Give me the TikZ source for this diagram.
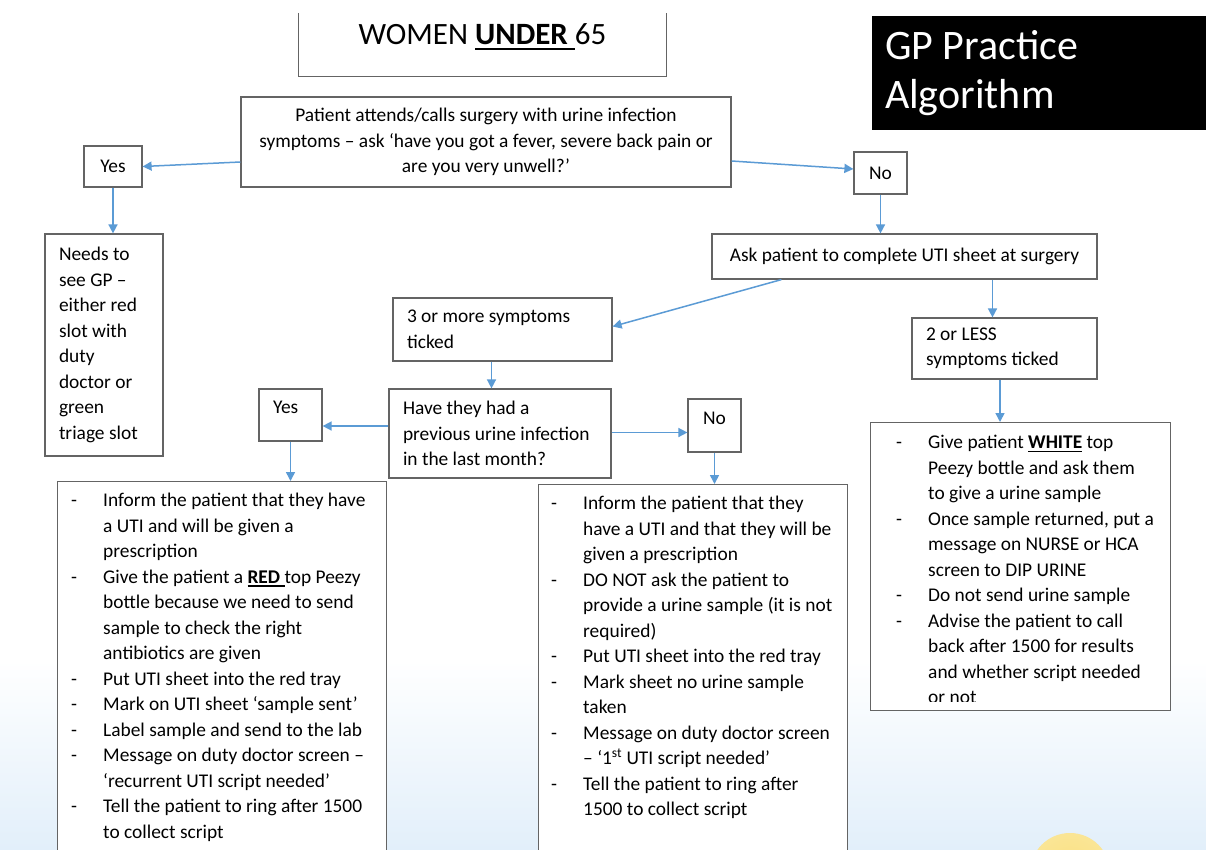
\documentclass[tikz,border=0pt]{standalone}
\usepackage{fontspec}
\setmainfont{Carlito}
\usetikzlibrary{arrows.meta,calc,positioning}

\definecolor{arrowblue}{RGB}{91,155,213}
\definecolor{boxgray}{RGB}{100,100,100}
\definecolor{bgblue}{RGB}{226,239,250}
\definecolor{sunyellow}{RGB}{249,224,128}
\pgfdeclareradialshading{sunglow}{\pgfpoint{0bp}{0bp}}{color(0bp)=(sunyellow); color(30bp)=(sunyellow!80!white); color(45bp)=(sunyellow!40!white); color(50bp)=(bgblue)}

\newsavebox{\undlbox}
\newcommand{\undl}[2][-3.5pt]{\sbox{\undlbox}{#2}\rlap{\rule[#1]{\wd\undlbox}{1.6pt}}\usebox{\undlbox}}

\begin{document}
\begin{tikzpicture}
[x=1pt, y=-1pt, >={Triangle[length=9pt,width=9pt]}, font=\fontsize{19.4}{25.5}\selectfont]
\tikzstyle{box}=[draw=boxgray, line width=1.2pt, fill=white, inner sep=0pt]
\tikzstyle{yn}=[box, minimum width=58pt, minimum height=41pt]
\tikzstyle{txt}=[box, align=flush left, inner xsep=14pt]
\tikzstyle{list}=[inner sep=0pt, anchor=north west]
\tikzstyle{every edge}=[draw, arrowblue, line width=1.5pt]

% background
\useasboundingbox (0,0) rectangle (1206,849);
\fill[white] (0,0) rectangle (1206,660);
\shade[top color=white, bottom color=bgblue] (0,660) rectangle (1206,849);
\shade[shading=sunglow] (1070,873) circle (40);

% headings
\node[minimum width=367pt, minimum height=63pt, inner sep=0pt] (title_box) at (482.5,44.5) {};
\draw[boxgray, line width=1.2pt] (title_box.north west) -- (title_box.south west) -- (title_box.south east) -- (title_box.north east);
\node[anchor=base, font=\fontsize{31}{37}\selectfont] (title) at (482.5,44) {WOMEN \undl[-5.5pt]{\textbf{UNDER }}65};
\node[fill=black, text=white, minimum width=334pt, minimum height=114pt, inner xsep=13pt, text width=308pt, align=flush left, font=\fontsize{42}{49}\selectfont] (gp) at (1039,73) {GP Practice\\Algorithm};

% questions and answers
\node[box, minimum width=490pt, minimum height=90pt, text width=490pt, align=flush center] (q_fever) at (486,142) {Patient attends/calls surgery with urine infection\\symptoms – ask ‘have you got a fever, severe back pain or\\are you very unwell?’};
\node[yn] (yes_1) at (113,166.5) {Yes};
\node[txt, minimum width=118pt, minimum height=222pt, text width=90pt] (gp_see) at (104,345) {Needs to\\see GP –\\either red\\slot with\\duty\\doctor or\\green\\triage slot};
\node[yn, minimum width=53pt, minimum height=42pt] (no_1) at (880.5,173) {No};
\node[box, minimum width=385pt, minimum height=45pt] (uti_sheet) at (904.5,256.5) {Ask patient to complete UTI sheet at surgery};
\node[txt, minimum width=219pt, minimum height=63pt, text width=191pt] (sym_3) at (502.5,329.5) {3 or more symptoms\\ticked};
\node[txt, minimum width=185pt, minimum height=61pt, text width=157pt] (sym_2) at (1004.5,348.5) {2 or LESS\\symptoms ticked};
\node[txt, minimum width=222pt, minimum height=89pt, text width=194pt] (q_prev) at (500,433.5) {Have they had a\\previous urine infection\\in the last month?};
\node[yn, minimum width=63pt, minimum height=52pt, inner xsep=14pt, text width=35pt, align=flush left, text depth=16pt] (yes_2) at (290.5,415) {Yes};
\node[yn, minimum width=53pt, minimum height=53pt, text depth=14pt] (no_2) at (714.5,425.5) {No};

% action lists
\node[box, minimum width=329pt, minimum height=420pt, anchor=north west] (act_red) at (57,481) {};
\node[list] (act_red_txt) at (71,488.7) {\begin{tabular}{@{}p{32pt}@{}l@{}}
- & Inform the patient that they have\\
  & a UTI and will be given a\\
  & prescription\\
- & Give the patient a \undl{\textbf{RED }}top Peezy\\
  & bottle because we need to send\\
  & sample to check the right\\
  & antibiotics are given\\
- & Put UTI sheet into the red tray\\
- & Mark on UTI sheet ‘sample sent’\\
- & Label sample and send to the lab\\
- & Message on duty doctor screen –\\
  & ‘recurrent UTI script needed’\\
- & Tell the patient to ring after 1500\\
  & to collect script
\end{tabular}};

\node[box, minimum width=309pt, minimum height=420pt, anchor=north west] (act_none) at (538,484) {};
\node[list] (act_none_txt) at (551,491.7) {\begin{tabular}{@{}p{32pt}@{}l@{}}
- & Inform the patient that they\\
  & have a UTI and that they will be\\
  & given a prescription\\
- & DO NOT ask the patient to\\
  & provide a urine sample (it is not\\
  & required)\\
- & Put UTI sheet into the red tray\\
- & Mark sheet no urine sample\\
  & taken\\
- & Message on duty doctor screen\\
  & – ‘1\textsuperscript{st} UTI script needed’\\
- & Tell the patient to ring after\\
  & 1500 to collect script
\end{tabular}};

\node[box, minimum width=300pt, minimum height=288pt, anchor=north west] (act_white) at (870,422) {};
\begin{scope}
\clip (870,422) rectangle (1170,701);
\node[list] (act_white_txt) at (896,430.7) {\begin{tabular}{@{}p{32pt}@{}l@{}}
- & Give patient \undl{\textbf{WHITE}} top\\
  & Peezy bottle and ask them\\
  & to give a urine sample\\
- & Once sample returned, put a\\
  & message on NURSE or HCA\\
  & screen to DIP URINE\\
- & Do not send urine sample\\
- & Advise the patient to call\\
  & back after 1500 for results\\
  & and whether script needed\\
  & or not
\end{tabular}};
\end{scope}

\path[->]
	([yshift=-20pt]q_fever.west) 	edge (yes_1.east)
	([yshift=-19pt]q_fever.east) 	edge ([yshift=4pt]no_1.west)
	(yes_1.south) 	edge (yes_1.south |- gp_see.north)
	(no_1.south) 	edge (no_1.south |- uti_sheet.north)
	([xshift=70pt]uti_sheet.south west) 	edge ([yshift=3pt]sym_3.east)
	([xshift=-12pt]sym_2.north |- uti_sheet.south) 	edge ([xshift=-12pt]sym_2.north)
	([xshift=-4.5pt]sym_2.south) 	edge ([xshift=-4.5pt]sym_2.south |- act_white.north)
	([xshift=-11pt]sym_3.south) 	edge ([xshift=-11pt]sym_3.south |- q_prev.north)
	([yshift=7.5pt]q_prev.west) 	edge ([yshift=7.5pt]q_prev.west -| yes_2.east)
	([yshift=1pt]q_prev.east) 	edge ([yshift=1pt]q_prev.east -| no_2.west)
	(yes_2.south) 	edge (yes_2.south |- act_red.north)
	(no_2.south) 	edge (no_2.south |- act_none.north)
	;
\end{tikzpicture}
\end{document}
